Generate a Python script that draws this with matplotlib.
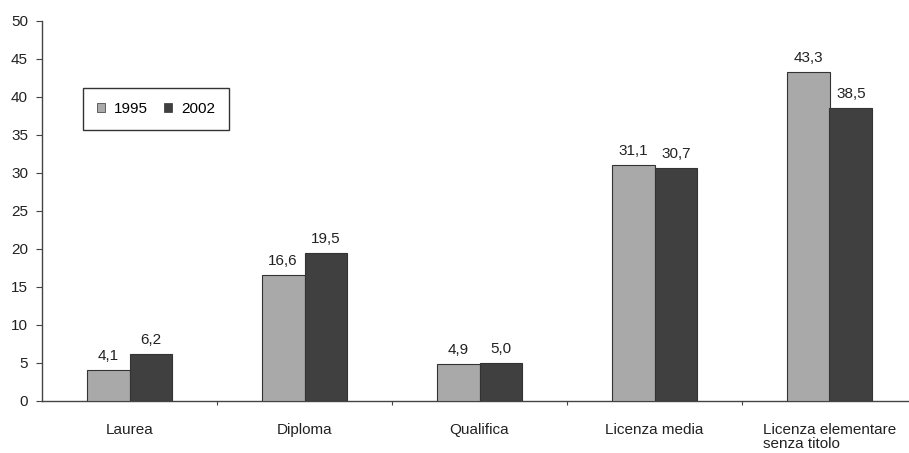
import matplotlib
matplotlib.use("Agg")
import matplotlib.pyplot as plt
import numpy as np
from matplotlib.patches import Patch

plt.rcParams['font.family'] = ['Liberation Sans', 'DejaVu Sans']

categories = ["Laurea", "Diploma", "Qualifica", "Licenza media",
              "Licenza elementare\nsenza titolo"]
series_names = ["1995", "2002"]
values_1995 = [4.1, 16.6, 4.9, 31.1, 43.3]
values_2002 = [6.2, 19.5, 5.0, 30.7, 38.5]
y_ticks = [0, 5, 10, 15, 20, 25, 30, 35, 40, 45, 50]

colors = ["#a9a9a9", "#404040"]
fs = 11

W, H = 909, 453
fig = plt.figure(figsize=(W / 100, H / 100), dpi=100)
ax = fig.add_axes([42 / W, 1 - 401 / H, (W - 42) / W, 380 / H])

x = np.arange(len(categories))
bw = 0.245
for i, (vals, col) in enumerate(zip([values_1995, values_2002], colors)):
    pos = x + (i - 0.5) * bw
    ax.bar(pos, vals, width=bw, color=col, edgecolor="#333333",
           linewidth=0.8, zorder=3)
    for px, v in zip(pos, vals):
        ax.annotate(f"{v:.1f}".replace(".", ","), (px, v),
                    xytext=(0, 5), textcoords="offset points",
                    ha="center", va="bottom", fontsize=fs, color="#222222")

ax.set_ylim(0, 50)
ax.set_xlim(-0.5, -0.5 + (W - 42) / 175)
ax.set_yticks(y_ticks)
ax.set_yticklabels([str(t) for t in y_ticks], fontsize=fs, color="#222222")

# category boundary ticks on the x axis
ax.set_xticks(np.arange(0.5, len(categories) - 0.5, 1.0))
ax.set_xticklabels([])
ax.tick_params(axis="x", direction="out", length=3, width=0.8, color="#444444")
ax.tick_params(axis="y", direction="out", length=4, width=0.8, color="#444444", pad=6)

for i, c in enumerate(categories):
    ax.text(x[i], -2.9, c, ha="center", va="top", multialignment="left",
            fontsize=fs, color="#222222", linespacing=1.0)

for s in ["top", "right"]:
    ax.spines[s].set_visible(False)
for s in ["left", "bottom"]:
    ax.spines[s].set_color("#444444")
    ax.spines[s].set_linewidth(1.0)

handles = [Patch(facecolor=c, edgecolor="#333333", linewidth=0.5) for c in colors]
leg = ax.legend(handles, series_names, ncol=2, loc="upper left",
                bbox_to_anchor=((83 - 42) / (W - 42), 1 - (88 - 21) / 380),
                frameon=True, fancybox=False, edgecolor="black", fontsize=fs,
                handlelength=0.55, handleheight=0.55, handletextpad=0.6,
                columnspacing=1.0, borderpad=0.9, borderaxespad=0)
leg.get_frame().set_linewidth(1.0)

fig.savefig("out.png", dpi=100, facecolor="white")
